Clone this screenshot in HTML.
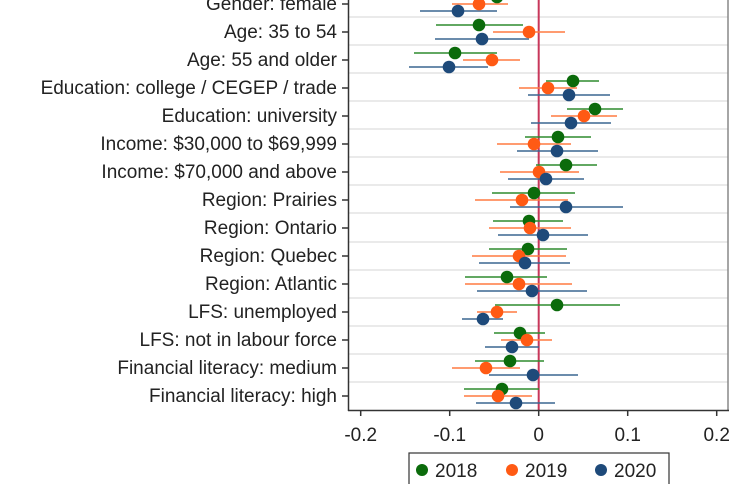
<!DOCTYPE html>
<html><head><meta charset="utf-8"><style>
html,body{margin:0;padding:0;background:#fff;}
svg{display:block;font-family:"Liberation Sans",Arial,sans-serif;}
</style></head><body>
<svg width="749" height="484" viewBox="0 0 749 484" xmlns="http://www.w3.org/2000/svg">
<rect width="749" height="484" fill="#fff"/>
<g stroke="#e3e3e3" stroke-width="1.5">
<line x1="349" x2="728" y1="17" y2="17"/><line x1="349" x2="728" y1="45" y2="45"/><line x1="349" x2="728" y1="73" y2="73"/><line x1="349" x2="728" y1="101" y2="101"/><line x1="349" x2="728" y1="129" y2="129"/><line x1="349" x2="728" y1="157" y2="157"/><line x1="349" x2="728" y1="185" y2="185"/><line x1="349" x2="728" y1="213" y2="213"/><line x1="349" x2="728" y1="242" y2="242"/><line x1="349" x2="728" y1="270" y2="270"/><line x1="349" x2="728" y1="298" y2="298"/><line x1="349" x2="728" y1="326" y2="326"/><line x1="349" x2="728" y1="354" y2="354"/><line x1="349" x2="728" y1="382" y2="382"/>
</g>
<line x1="728" y1="0" x2="728" y2="410" stroke="#888" stroke-width="1.5"/>
<line x1="538.7" y1="0" x2="538.7" y2="410" stroke="#c8375a" stroke-width="2"/>
<g stroke-width="1.6">
<g stroke="#2e8b2e">
<line x1="452" x2="535" y1="-3" y2="-3"/><line x1="436" x2="523" y1="25" y2="25"/><line x1="414" x2="497" y1="53" y2="53"/><line x1="546" x2="599" y1="81" y2="81"/><line x1="567" x2="623" y1="109" y2="109"/><line x1="525" x2="591" y1="137" y2="137"/><line x1="536" x2="597" y1="165" y2="165"/><line x1="492" x2="575" y1="193" y2="193"/><line x1="493" x2="563" y1="221" y2="221"/><line x1="489" x2="567" y1="249" y2="249"/><line x1="465" x2="547" y1="277" y2="277"/><line x1="495" x2="620" y1="305" y2="305"/><line x1="494" x2="545" y1="333" y2="333"/><line x1="475" x2="544" y1="361" y2="361"/><line x1="464" x2="539" y1="389" y2="389"/>
</g>
<g stroke="#ff7a40">
<line x1="452" x2="508" y1="4" y2="4"/><line x1="493" x2="565" y1="32" y2="32"/><line x1="463" x2="520" y1="60" y2="60"/><line x1="519" x2="577" y1="88" y2="88"/><line x1="551" x2="617" y1="116" y2="116"/><line x1="497" x2="571" y1="144" y2="144"/><line x1="500" x2="579" y1="172" y2="172"/><line x1="475" x2="568" y1="200" y2="200"/><line x1="489" x2="571" y1="228" y2="228"/><line x1="472" x2="566" y1="256" y2="256"/><line x1="465" x2="572" y1="284" y2="284"/><line x1="477" x2="517" y1="312" y2="312"/><line x1="501" x2="552" y1="340" y2="340"/><line x1="452" x2="520" y1="368" y2="368"/><line x1="464" x2="532" y1="396" y2="396"/>
</g>
<g stroke="#3a6690">
<line x1="420" x2="497" y1="11" y2="11"/><line x1="435" x2="529" y1="39" y2="39"/><line x1="409" x2="488" y1="67" y2="67"/><line x1="528" x2="610" y1="95" y2="95"/><line x1="531" x2="611" y1="123" y2="123"/><line x1="517" x2="598" y1="151" y2="151"/><line x1="508" x2="584" y1="179" y2="179"/><line x1="510" x2="623" y1="207" y2="207"/><line x1="498" x2="588" y1="235" y2="235"/><line x1="479" x2="570" y1="263" y2="263"/><line x1="477" x2="587" y1="291" y2="291"/><line x1="462" x2="503" y1="319" y2="319"/><line x1="485" x2="539" y1="347" y2="347"/><line x1="489" x2="578" y1="375" y2="375"/><line x1="476" x2="555" y1="403" y2="403"/>
</g>
</g>
<g fill="#0b6b0b">
<circle cx="497" cy="-3" r="6.3"/><circle cx="479" cy="25" r="6.3"/><circle cx="455" cy="53" r="6.3"/><circle cx="573" cy="81" r="6.3"/><circle cx="595" cy="109" r="6.3"/><circle cx="558" cy="137" r="6.3"/><circle cx="566" cy="165" r="6.3"/><circle cx="534" cy="193" r="6.3"/><circle cx="529" cy="221" r="6.3"/><circle cx="528" cy="249" r="6.3"/><circle cx="507" cy="277" r="6.3"/><circle cx="557" cy="305" r="6.3"/><circle cx="520" cy="333" r="6.3"/><circle cx="510" cy="361" r="6.3"/><circle cx="502" cy="389" r="6.3"/>
</g>
<g fill="#ff5a14">
<circle cx="479" cy="4" r="6.3"/><circle cx="529" cy="32" r="6.3"/><circle cx="492" cy="60" r="6.3"/><circle cx="548" cy="88" r="6.3"/><circle cx="584" cy="116" r="6.3"/><circle cx="534" cy="144" r="6.3"/><circle cx="539" cy="172" r="6.3"/><circle cx="522" cy="200" r="6.3"/><circle cx="530" cy="228" r="6.3"/><circle cx="519" cy="256" r="6.3"/><circle cx="519" cy="284" r="6.3"/><circle cx="497" cy="312" r="6.3"/><circle cx="527" cy="340" r="6.3"/><circle cx="486" cy="368" r="6.3"/><circle cx="498" cy="396" r="6.3"/>
</g>
<g fill="#1e4a7a">
<circle cx="458" cy="11" r="6.3"/><circle cx="482" cy="39" r="6.3"/><circle cx="449" cy="67" r="6.3"/><circle cx="569" cy="95" r="6.3"/><circle cx="571" cy="123" r="6.3"/><circle cx="557" cy="151" r="6.3"/><circle cx="546" cy="179" r="6.3"/><circle cx="566" cy="207" r="6.3"/><circle cx="543" cy="235" r="6.3"/><circle cx="525" cy="263" r="6.3"/><circle cx="532" cy="291" r="6.3"/><circle cx="483" cy="319" r="6.3"/><circle cx="512" cy="347" r="6.3"/><circle cx="533" cy="375" r="6.3"/><circle cx="516" cy="403" r="6.3"/>
</g>
<line x1="348.5" y1="0" x2="348.5" y2="411" stroke="#333" stroke-width="1.5"/>
<line x1="348" y1="410.5" x2="729" y2="410.5" stroke="#333" stroke-width="1.5"/>
<g stroke="#333" stroke-width="1.5">
<line x1="342" x2="348" y1="4" y2="4"/><line x1="342" x2="348" y1="32" y2="32"/><line x1="342" x2="348" y1="60" y2="60"/><line x1="342" x2="348" y1="88" y2="88"/><line x1="342" x2="348" y1="116" y2="116"/><line x1="342" x2="348" y1="144" y2="144"/><line x1="342" x2="348" y1="172" y2="172"/><line x1="342" x2="348" y1="200" y2="200"/><line x1="342" x2="348" y1="228" y2="228"/><line x1="342" x2="348" y1="256" y2="256"/><line x1="342" x2="348" y1="284" y2="284"/><line x1="342" x2="348" y1="312" y2="312"/><line x1="342" x2="348" y1="340" y2="340"/><line x1="342" x2="348" y1="368" y2="368"/><line x1="342" x2="348" y1="396" y2="396"/>
<line x1="360.7" x2="360.7" y1="410" y2="416"/><line x1="449.7" x2="449.7" y1="410" y2="416"/><line x1="538.7" x2="538.7" y1="410" y2="416"/><line x1="627.7" x2="627.7" y1="410" y2="416"/><line x1="716.7" x2="716.7" y1="410" y2="416"/>
</g>
<g font-size="19" fill="#222" text-anchor="end">
<text x="337" y="10">Gender: female</text>
<text x="337" y="38">Age: 35 to 54</text>
<text x="337" y="66">Age: 55 and older</text>
<text x="337" y="94">Education: college / CEGEP / trade</text>
<text x="337" y="122">Education: university</text>
<text x="337" y="150">Income: $30,000 to $69,999</text>
<text x="337" y="178">Income: $70,000 and above</text>
<text x="337" y="206">Region: Prairies</text>
<text x="337" y="234">Region: Ontario</text>
<text x="337" y="262">Region: Quebec</text>
<text x="337" y="290">Region: Atlantic</text>
<text x="337" y="318">LFS: unemployed</text>
<text x="337" y="346">LFS: not in labour force</text>
<text x="337" y="374">Financial literacy: medium</text>
<text x="337" y="402">Financial literacy: high</text>
</g>
<g font-size="19" fill="#222" text-anchor="middle">
<text x="360.7" y="441">-0.2</text><text x="449.7" y="441">-0.1</text><text x="538.7" y="441">0</text><text x="627.7" y="441">0.1</text><text x="716.7" y="441">0.2</text>
</g>
<rect x="409" y="453" width="260" height="40" fill="#fff" stroke="#333" stroke-width="1.2"/>
<circle cx="422" cy="470" r="6" fill="#0b6b0b"/><text x="435" y="477" font-size="19" fill="#222">2018</text>
<circle cx="512" cy="470" r="6" fill="#ff5a14"/><text x="525" y="477" font-size="19" fill="#222">2019</text>
<circle cx="601" cy="470" r="6" fill="#1e4a7a"/><text x="614" y="477" font-size="19" fill="#222">2020</text>
</svg>
</body></html>
